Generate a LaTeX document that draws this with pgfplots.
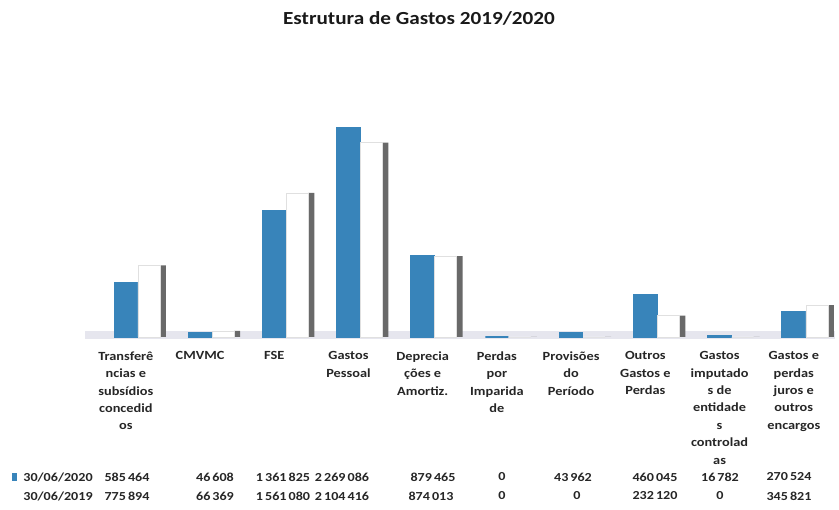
\documentclass[border=0pt]{standalone}
\usepackage{pgfplots}
\pgfplotsset{compat=1.18}
\usepackage{fontspec}
\setmainfont{Carlito}[FakeStretch=1.15]
\definecolor{barblue}{RGB}{56,132,186}
\definecolor{floorc}{RGB}{230,230,238}
\definecolor{sidegray}{RGB}{105,105,105}
\begin{document}
\begin{tikzpicture}
\path[use as bounding box] (0bp,0bp) rectangle (839bp,510bp);
\node[font=\bfseries\fontsize{18.5}{22}\selectfont, text=black!90] at (419bp,492bp) {Estrutura de Gastos 2019/2020};
\begin{axis}[
  at={(85bp,173bp)}, anchor=south west, scale only axis,
  width=749.6bp, height=231bp,
  xmin=-0.55, xmax=9.55, ymin=0, ymax=2500000,
  axis line style={draw=none}, ytick=\empty, xtick={0,...,9},
  major tick length=0pt, clip=false,
  xticklabels={
    {Transferê\\ncias e\\subsídios\\concedid\\os},
    {CMVMC},
    {FSE},
    {Gastos\\Pessoal},
    {Deprecia\\ções e\\Amortiz.},
    {Perdas\\por\\Imparida\\de},
    {Provisões\\do\\Período},
    {Outros\\Gastos e\\Perdas},
    {Gastos\\imputado\\s de\\entidade\\s\\controlad\\as},
    {Gastos e\\perdas\\juros e\\outros\\encargos}},
  xticklabel style={font=\bfseries\fontsize{12.5}{17.5}\selectfont, align=center, anchor=north, text=black!85, yshift=-11bp},
]
\fill[floorc] (axis cs:-0.55,-20000) rectangle (axis cs:9.55,60000);
\addplot[ybar, bar width=23bp, bar shift=0bp, fill=barblue, draw=barblue, line width=1.6bp]
  coordinates {(0,585464) (1,46608) (2,1361825) (3,2269086) (4,879465) (5,0) (6,43962) (7,460045) (8,16782) (9,270524)};
\addplot[ybar, bar width=6bp, bar shift=37bp, fill=sidegray, draw=none]
  coordinates {(0,775894) (1,66369) (2,1561080) (3,2104416) (4,874013) (5,0) (6,0) (7,232120) (8,0) (9,345821)};
\addplot[ybar, bar width=22bp, bar shift=23bp, fill=white, draw=black!12]
  coordinates {(0,775894) (1,66369) (2,1561080) (3,2104416) (4,874013) (5,0) (6,0) (7,232120) (8,0) (9,345821)};
\end{axis}
\begin{scope}[every node/.style={font=\bfseries\fontsize{12.3}{15}\selectfont, text=black!85}]
\fill[barblue] (12bp,29bp) rectangle (17bp,37bp);
\node at (58bp,33bp) {30/06/2020};
\node at (58bp,14bp) {30/06/2019};
\node at (127bp,33bp) {585\,464};
\node at (215bp,33bp) {46\,608};
\node at (283bp,33bp) {1\,361\,825};
\node at (342bp,33bp) {2\,269\,086};
\node at (433bp,33bp) {879\,465};
\node at (502bp,33bp) {0};
\node at (573bp,33bp) {43\,962};
\node at (655bp,33bp) {460\,045};
\node at (720bp,33bp) {16\,782};
\node at (789bp,33bp) {270\,524};
\node at (127bp,14bp) {775\,894};
\node at (215bp,14bp) {66\,369};
\node at (283bp,14bp) {1\,561\,080};
\node at (342bp,14bp) {2\,104\,416};
\node at (431bp,14bp) {874\,013};
\node at (502bp,14bp) {0};
\node at (577bp,14bp) {0};
\node at (655bp,14bp) {232\,120};
\node at (720bp,14bp) {0};
\node at (789bp,14bp) {345\,821};
\end{scope}
\end{tikzpicture}
\end{document}
